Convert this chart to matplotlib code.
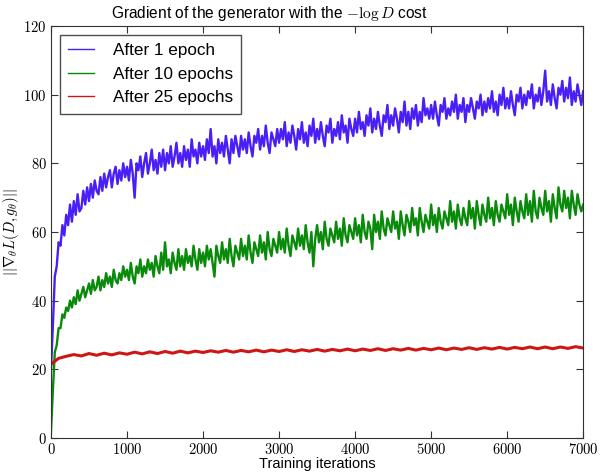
import numpy as np
import matplotlib
matplotlib.use('Agg')
import matplotlib.pyplot as plt

plt.rcParams['font.family'] = ['Liberation Sans', 'DejaVu Sans']
plt.rcParams['mathtext.fontset'] = 'cm'

# iterations sampled every 25 (blue, green) and every 100 (red)
iters_25 = np.arange(0, 7001, 25)
iters_100 = np.arange(0, 7001, 100)

# After 1 epoch (noisy band)
epoch1 = [20, 33, 47, 50, 57, 56, 62, 59, 65, 62,
          68, 63, 69, 65, 71, 66, 67, 72, 68, 73,
          69, 74, 70, 75, 72, 71, 76, 72, 77, 73,
          76, 78, 73, 77, 79, 74, 78, 75, 80, 76,
          79, 75, 81, 77, 70, 80, 78, 82, 76, 80,
          83, 77, 80, 84, 78, 81, 77, 83, 79, 84,
          78, 83, 80, 85, 79, 82, 86, 80, 83, 79,
          85, 81, 84, 79, 87, 82, 84, 80, 86, 82,
          85, 81, 87, 83, 90, 82, 85, 80, 87, 83,
          86, 82, 88, 84, 80, 87, 83, 88, 85, 82,
          88, 84, 87, 83, 89, 85, 82, 88, 86, 90,
          84, 88, 85, 91, 86, 83, 89, 87, 85, 90,
          86, 90, 87, 92, 85, 89, 86, 91, 88, 84,
          90, 87, 92, 86, 89, 85, 91, 88, 93, 86,
          90, 87, 92, 88, 85, 91, 89, 93, 86, 90,
          88, 92, 87, 94, 89, 91, 86, 93, 90, 88,
          93, 89, 95, 90, 92, 88, 94, 91, 96, 89,
          93, 90, 95, 91, 88, 94, 92, 97, 90, 94,
          91, 96, 93, 89, 95, 92, 98, 91, 95, 90,
          96, 93, 97, 91, 95, 92, 99, 94, 96, 93,
          97, 93, 98, 94, 91, 97, 95, 99, 93, 96,
          94, 98, 95, 100, 93, 97, 95, 99, 92, 97,
          95, 99, 96, 93, 98, 96, 100, 94, 98, 95,
          99, 96, 101, 95, 98, 94, 100, 97, 102, 96,
          99, 96, 101, 97, 94, 100, 98, 102, 96, 100,
          97, 101, 99, 103, 96, 100, 98, 102, 97, 101,
          107, 98, 101, 97, 103, 99, 96, 102, 100, 104,
          98, 102, 99, 105, 97, 101, 98, 103, 100, 97,
          101]

# After 10 epochs
epoch10 = [2, 14, 25, 27, 32, 32, 36, 35, 38, 37,
           40, 38, 41, 39, 43, 40, 42, 44, 41, 43,
           45, 42, 46, 43, 44, 47, 43, 46, 44, 48,
           45, 47, 44, 49, 46, 45, 48, 46, 50, 47,
           49, 46, 51, 47, 45, 50, 48, 52, 47, 50,
           48, 52, 49, 51, 47, 53, 50, 48, 54, 49,
           57, 50, 52, 48, 54, 51, 49, 55, 50, 53,
           49, 55, 51, 53, 50, 56, 52, 49, 55, 51,
           54, 50, 56, 52, 55, 51, 47, 56, 53, 51,
           57, 52, 55, 51, 58, 53, 50, 56, 54, 52,
           58, 53, 56, 52, 59, 54, 51, 57, 55, 53,
           59, 54, 57, 52, 60, 55, 53, 58, 56, 54,
           60, 55, 58, 54, 61, 56, 53, 59, 57, 55,
           61, 56, 59, 55, 62, 57, 54, 60, 50, 58,
           62, 57, 60, 55, 63, 58, 56, 61, 59, 57,
           63, 58, 61, 56, 64, 59, 57, 62, 60, 58,
           64, 59, 62, 57, 65, 60, 58, 63, 61, 55,
           65, 60, 63, 58, 66, 61, 59, 64, 62, 60,
           66, 61, 63, 58, 66, 62, 59, 65, 63, 60,
           67, 62, 64, 59, 67, 63, 60, 65, 63, 61,
           68, 62, 65, 60, 67, 63, 61, 66, 64, 62,
           69, 63, 66, 61, 68, 64, 62, 67, 64, 62,
           69, 64, 67, 61, 69, 65, 62, 68, 65, 63,
           70, 64, 67, 62, 69, 65, 63, 68, 66, 64,
           71, 65, 68, 62, 70, 66, 63, 69, 66, 64,
           71, 65, 69, 63, 72, 66, 64, 70, 67, 65,
           72, 66, 69, 63, 71, 67, 64, 73, 68, 66,
           72, 67, 70, 64, 72, 68, 65, 71, 68, 66,
           68]

# After 25 epochs
epoch25 = [21.5, 23.2, 23.8, 24.3, 23.9, 24.6, 24.1, 24.7, 24.2, 24.8, 24.4, 25.0, 24.5, 25.1,
           24.6, 25.2, 24.7, 25.3, 24.8, 25.3, 24.9, 25.4, 25.0, 25.5, 25.0, 25.5, 25.1, 25.6,
           25.1, 25.6, 25.2, 25.7, 25.2, 25.7, 25.3, 25.8, 25.3, 25.8, 25.4, 25.9, 25.4, 25.9,
           25.5, 26.0, 25.5, 26.0, 25.6, 26.1, 25.6, 26.1, 25.7, 26.2, 25.7, 26.2, 25.8, 26.3,
           25.8, 26.3, 25.9, 26.4, 25.9, 26.4, 26.0, 26.5, 26.0, 26.5, 26.0, 26.5, 26.1, 26.6,
           26.2]

fig = plt.figure(figsize=(6, 4.73), dpi=100)
ax = fig.add_axes([0.085, 0.074, 0.887, 0.871])

ax.plot(iters_25, epoch1, color='#4a1ff5', lw=1.7, label='After 1 epoch')
ax.plot(iters_25, epoch10, color='#0a8a0a', lw=1.7, label='After 10 epochs')
ax.plot(iters_100, epoch25, color='#d01515', lw=2.2, label='After 25 epochs')

ax.set_xlim(0, 7000)
ax.set_ylim(0, 120)
ax.set_xticks(range(0, 7001, 1000))
ax.set_yticks(range(0, 121, 20))
ax.set_xticklabels(['$%d$' % v for v in range(0, 7001, 1000)], fontsize=10.5)
ax.set_yticklabels(['$%d$' % v for v in range(0, 121, 20)], fontsize=10.5)
ax.tick_params(direction='in', top=True, right=True, length=5, pad=3, color='#333333')
for s in ax.spines.values():
    s.set_color('#333333')

ax.set_title(r'Gradient of the generator with the $-\log D$ cost', fontsize=11.2, x=0.41)
ax.set_xlabel('Training iterations', fontsize=10.5, labelpad=0)
ax.set_ylabel(r'$||\nabla_\theta L(D, g_\theta)||$', fontsize=10.5, labelpad=2)

leg = ax.legend(loc='upper left', fontsize=12.3, handlelength=1.5, handletextpad=1.1,
                fancybox=False, borderpad=0.5, labelspacing=0.5)
leg.get_frame().set_edgecolor('#222222')
leg.get_frame().set_linewidth(1.0)
for line in leg.get_lines():
    line.set_linewidth(1.0)

fig.savefig('out.png', dpi=100)
